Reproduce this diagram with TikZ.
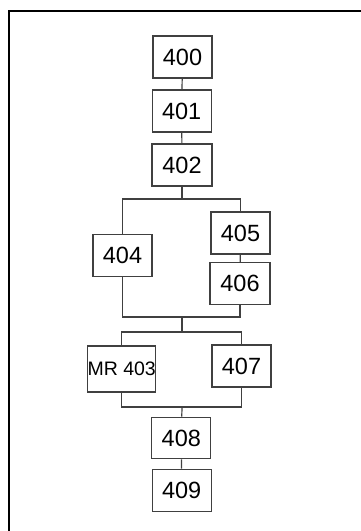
\documentclass[tikz,border=0pt]{standalone}
\usepackage{fontspec}
\setmainfont{Liberation Sans}

\begin{document}
\begin{tikzpicture}[x=1pt,y=-1pt,
        blk/.style={draw=black!75,line width=1.2pt,minimum width=59pt,minimum height=42pt,inner sep=0pt,font=\fontsize{23.5}{26}\selectfont},
        wire/.style={draw=black!75,line width=1.2pt}]
        \useasboundingbox (0,0) rectangle (361,531);
        \draw[line width=2.6pt] (9,535) |- (365,11); % frame
        % chain on top
        \node[blk] (b400) at (182.5,57) {400};
        \node[blk] (b401) at (181.7,111) {401};
        \node[blk,minimum width=60pt] (b402) at (182,165) {402};
        % two branches
        \node[blk,minimum height=42.5pt] (b404) at (122.5,255.5) {404};
        \node[blk] (b405) at (240.5,233) {405};
        \node[blk,minimum width=60pt] (b406) at (240,283.7) {406};
        \node[blk,minimum width=65pt,minimum height=46pt,font=\fontsize{19.5}{22}\selectfont] (mr403) at (121.7,369) {MR 403};
        \node[blk] (b407) at (241.5,366) {407};
        % chain at bottom
        \node[blk,minimum height=41.5pt] (b408) at (181.3,438) {408};
        \node[blk] (b409) at (181.7,490.3) {409};
        \coordinate (split1) at (182,199);
        \coordinate (join1) at (182,317);
        \coordinate (split2) at (182,332);
        \coordinate (join2) at (182,407);
        \draw[wire] (b400) -- (b401);
        \draw[wire] (b401) -- (b402);
        \draw[wire] (b402) -- (split1); % fork
        \draw[wire] (b404.north) |- (split1) -| (b405.north);
        \draw[wire] (b405) -- (b406);
        \draw[wire] (b404.south) |- (join1) -| (b406.south); % merge
        \draw[wire] (join1) -- (split2);
        \draw[wire] (mr403.north) |- (split2) -| (b407.north);
        \draw[wire] (mr403.south) |- (join2) -| (b407.south);
        \draw[wire] (join2) -- (b408);
        \draw[wire] (b408) -- (b409);
    \end{tikzpicture}
\end{document}
